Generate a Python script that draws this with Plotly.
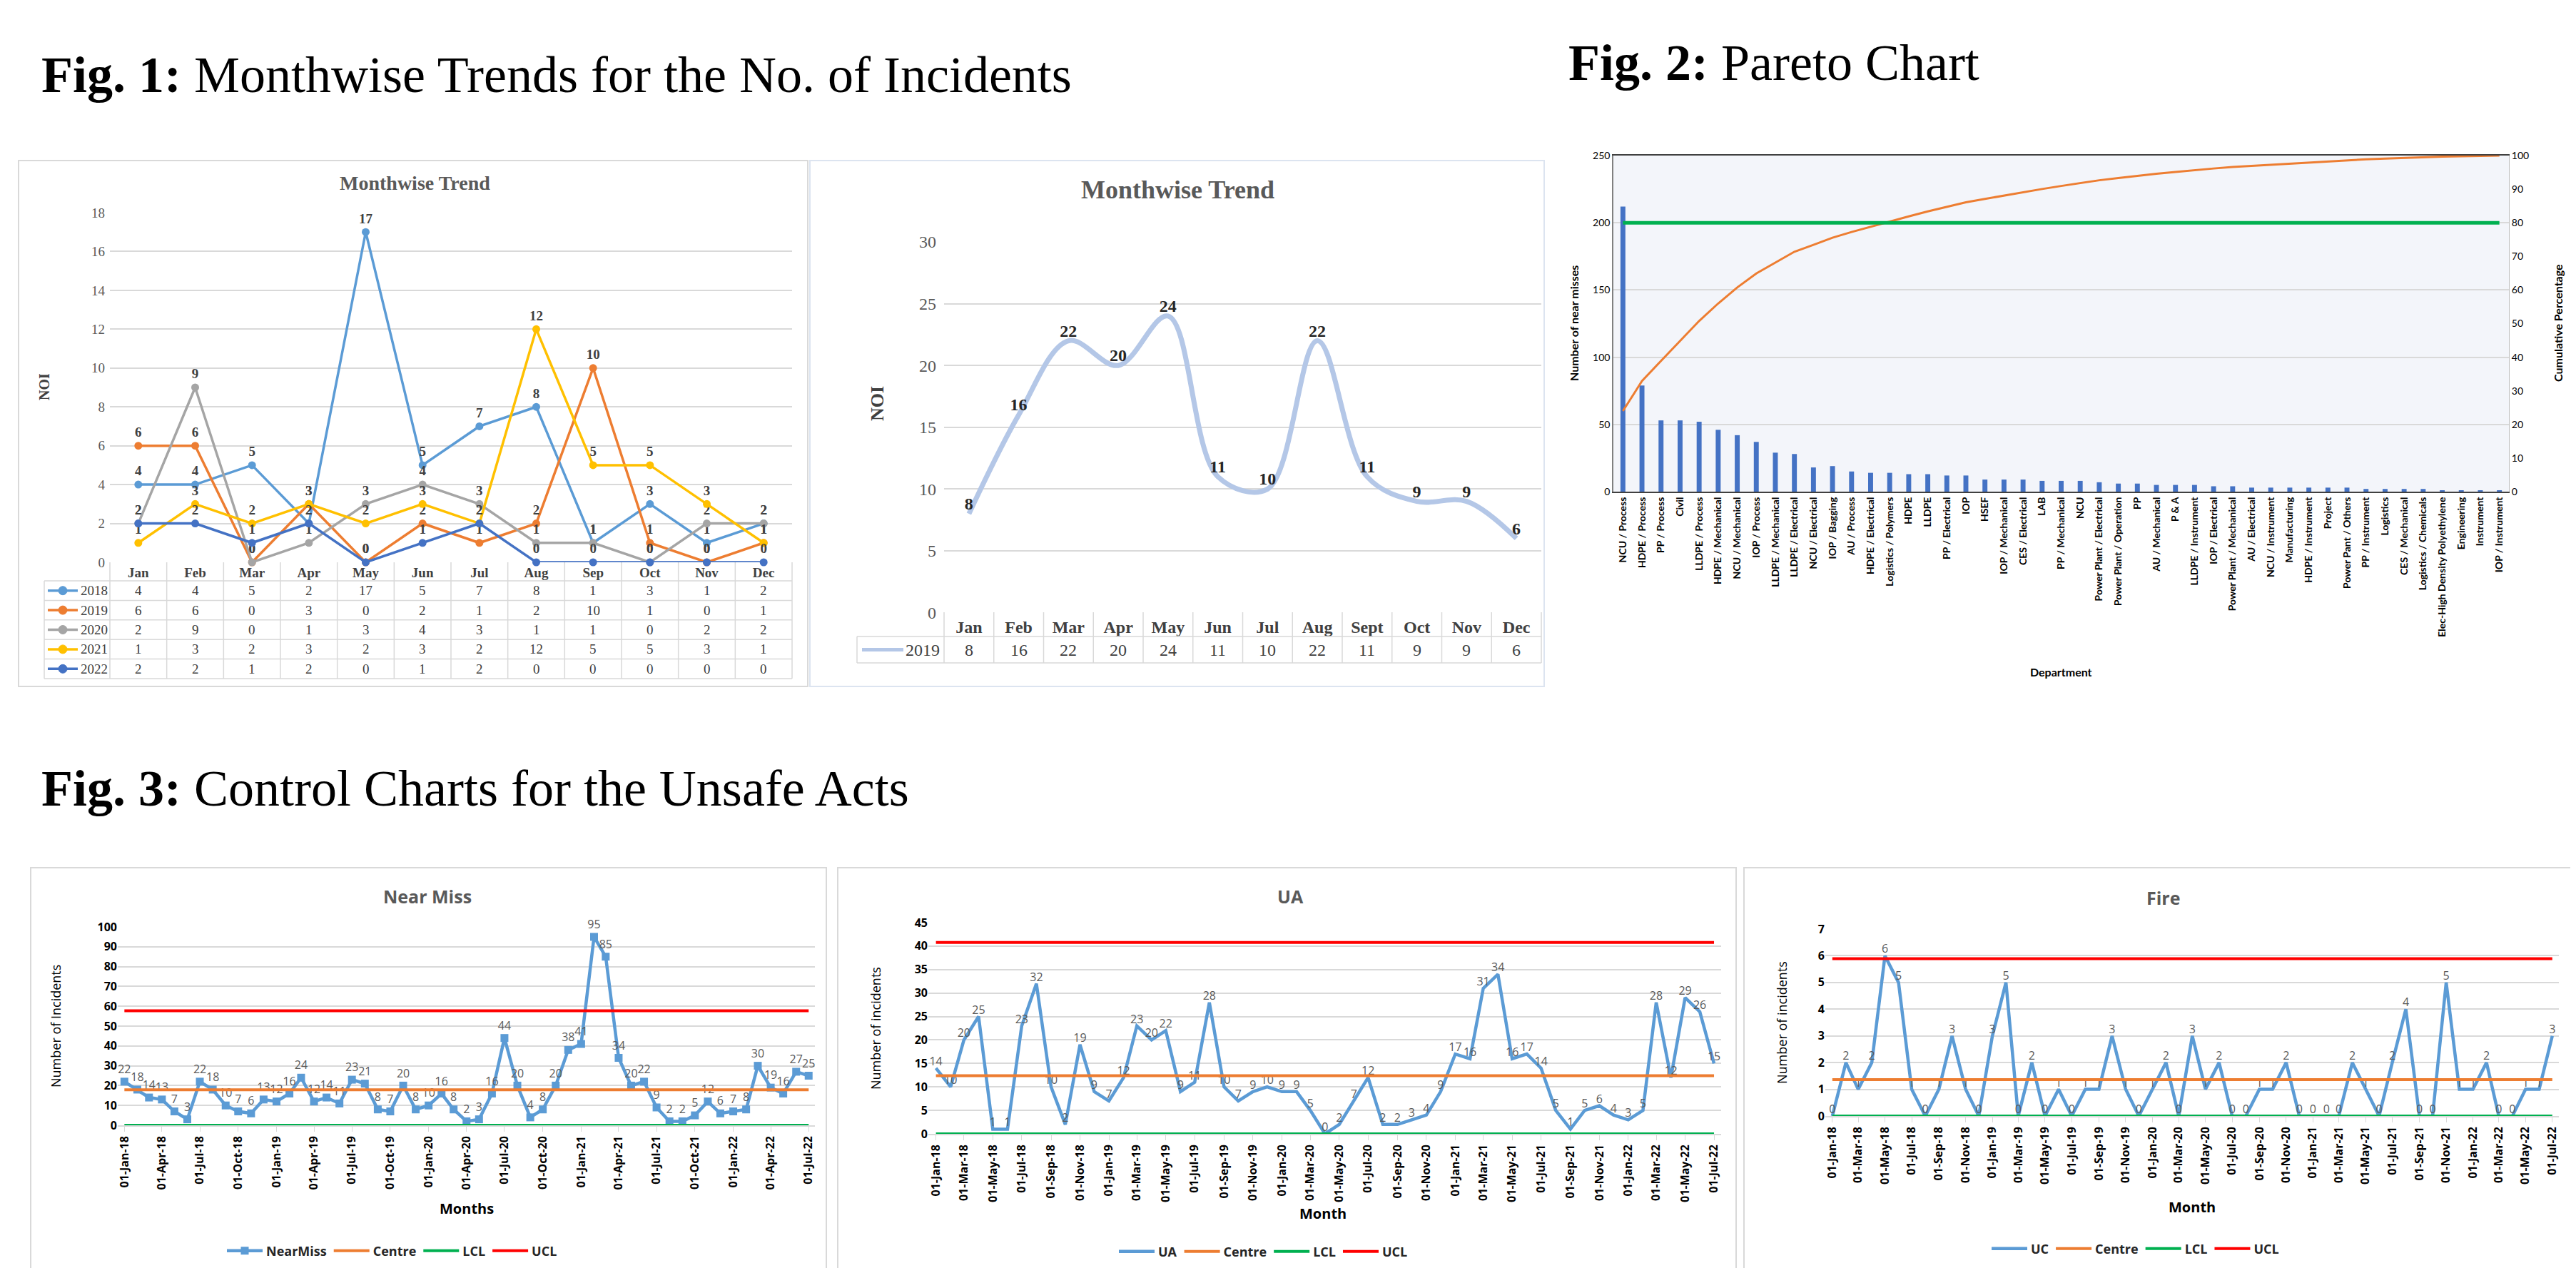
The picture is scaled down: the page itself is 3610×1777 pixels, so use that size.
import plotly.graph_objects as go
import numpy as np
import pandas as pd

W, H = 3610, 1777
def X(px): return px / W
def Y(py): return 1 - py / H

# ---------------- Fig. 1 data ----------------
months = ["Jan", "Feb", "Mar", "Apr", "May", "Jun", "Jul", "Aug", "Sep", "Oct", "Nov", "Dec"]
years = ["2018", "2019", "2020", "2021", "2022"]
noi_2018 = [4, 4, 5, 2, 17, 5, 7, 8, 1, 3, 1, 2]
noi_2019 = [6, 6, 0, 3, 0, 2, 1, 2, 10, 1, 0, 1]
noi_2020 = [2, 9, 0, 1, 3, 4, 3, 1, 1, 0, 2, 2]
noi_2021 = [1, 3, 2, 3, 2, 3, 2, 12, 5, 5, 3, 1]
noi_2022 = [2, 2, 1, 2, 0, 1, 2, 0, 0, 0, 0, 0]
year_colors = ["#5B9BD5", "#ED7D31", "#A5A5A5", "#FFC000", "#4472C4"]

months_b = ["Jan", "Feb", "Mar", "Apr", "May", "Jun", "Jul", "Aug", "Sept", "Oct", "Nov", "Dec"]
year_b = "2019"
noi_b = [8, 16, 22, 20, 24, 11, 10, 22, 11, 9, 9, 6]

# ---------------- Fig. 2 data ----------------
departments = [
    "NCU / Process", "HDPE / Process", "PP / Process", "Civil", "LLDPE / Process",
    "HDPE / Mechanical", "NCU / Mechanical", "IOP / Process", "LLDPE / Mechanical",
    "LLDPE / Electrical", "NCU / Electrical", "IOP / Bagging", "AU / Process",
    "HDPE / Electrical", "Logistics / Polymers", "HDPE", "LLDPE", "PP / Electrical",
    "IOP", "HSEF", "IOP / Mechanical", "CES / Electrical", "LAB", "PP / Mechanical",
    "NCU", "Power Plant / Electrical", "Power Plant / Operation", "PP", "AU / Mechanical",
    "P & A", "LLDPE / Instrument", "IOP / Electrical", "Power Plant / Mechanical",
    "AU / Electrical", "NCU / Instrument", "Manufacturing", "HDPE / Instrument", "Project",
    "Power Pant / Others", "PP / Instrument", "Logistics", "CES / Mechanical",
    "Logistics / Chemicals", "Elec-High Density Polyethylene", "Engineering", "Instrument",
    "IOP / Instrument"]
near_misses = [212, 79, 53, 53, 52, 46, 42, 37, 29, 28, 18, 19, 15, 14, 14, 13, 13, 12, 12,
               9, 9, 9, 8, 8, 8, 7, 6, 6, 5, 5, 5, 4, 4, 3, 3, 3, 3, 3, 3, 2, 2, 2, 2, 1, 1, 1, 1]
threshold_pct = 80

# ---------------- Fig. 3 data ----------------
month_dates = pd.date_range("2018-01-01", "2022-07-01", freq="MS")
near_miss = [22, 18, 14, 13, 7, 3, 22, 18, 10, 7, 6, 13,
             12, 16, 24, 12, 14, 11, 23, 21, 8, 7, 20, 8,
             10, 16, 8, 2, 3, 16, 44, 20, 4, 8, 20, 38,
             41, 95, 85, 34, 20, 22, 9, 2, 2, 5, 12, 6,
             7, 8, 30, 19, 16, 27, 25]
ua = [14, 10, 20, 25, 1, 1, 23, 32, 10, 2, 19, 9,
      7, 12, 23, 20, 22, 9, 11, 28, 10, 7, 9, 10,
      9, 9, 5, 0, 2, 7, 12, 2, 2, 3, 4, 9,
      17, 16, 31, 34, 16, 17, 14, 5, 1, 5, 6, 4,
      3, 5, 28, 12, 29, 26, 15]
fire = [0, 2, 1, 2, 6, 5, 1, 0, 1, 3, 1, 0,
        3, 5, 0, 2, 0, 1, 0, 1, 1, 3, 1, 0,
        1, 2, 0, 3, 1, 2, 0, 0, 1, 1, 2, 0,
        0, 0, 0, 2, 1, 0, 2, 4, 0, 0, 5, 1,
        1, 2, 0, 0, 1, 1, 3]
nm_limits = {"Centre": 17.87, "LCL": 0, "UCL": 57.7}
ua_limits = {"Centre": 12.4, "LCL": 0, "UCL": 40.8}
fire_limits = {"Centre": 1.36, "LCL": 0, "UCL": 5.89}
limit_colors = {"Centre": "#ED7D31", "LCL": "#00B050", "UCL": "#FF0000"}

SERIF = "Liberation Serif"
SANS = "Open Sans"
CAL = "Lato"
GRID = "#D9D9D9"

fig = go.Figure()
ann = []
shapes = []

def text(x, y, s, size, family, color="#000", angle=0, xanchor="center", xref="paper", xval=None):
    ann.append(dict(x=X(x) if xval is None else xval, y=Y(y), xref=xref, yref="paper", text=s,
                    showarrow=False, font=dict(size=size, family=family, color=color),
                    textangle=angle, xanchor=xanchor, yanchor="middle"))

def line(x0, y0, x1, y1, color=GRID, width=1.5):
    shapes.append(dict(type="line", xref="paper", yref="paper", x0=X(x0), x1=X(x1),
                       y0=Y(y0), y1=Y(y1), line=dict(color=color, width=width)))

def table_grid(x_label, x_left, x_right, n, y_top, y_head, row_h, nrows):
    colw = (x_right - x_left) / n
    y_bot = y_head + nrows * row_h
    for r in range(nrows + 1):
        yy = y_head + r * row_h
        line(x_label, yy, x_right, yy)
    for k in range(n + 1):
        xx = x_left + k * colw
        line(xx, y_top, xx, y_bot)
    line(x_label, y_head, x_label, y_bot)

# ---------------- Fig. 1 left: multi-year lines + data table ----------------
series_1 = [noi_2018, noi_2019, noi_2020, noi_2021, noi_2022]
for yr, vals, col in zip(years, series_1, year_colors):
    fig.add_trace(go.Scatter(
        x=months, y=vals, mode="lines+markers+text", name=yr,
        text=vals, texttemplate="<b>%{text}</b>", textposition="top center",
        textfont=dict(family=SERIF, size=19, color="#404040"),
        line=dict(color=col, width=3.5), marker=dict(size=11, color=col),
        xaxis="x", yaxis="y", showlegend=False, cliponaxis=False))

T1 = dict(x_label=54, x_left=146, x_right=1102, y_top=780, y_head=806, row_h=27.4)
table_grid(T1["x_label"], T1["x_left"], T1["x_right"], 12, T1["y_top"], T1["y_head"], T1["row_h"], len(years))
for r, (yr, vals, col) in enumerate(zip(years, series_1, year_colors)):
    yc = T1["y_head"] + (r + 0.5) * T1["row_h"]
    line(59, yc, 101, yc, color=col, width=3.5)
    shapes.append(dict(type="circle", xref="paper", yref="paper", xsizemode="pixel", ysizemode="pixel",
                       xanchor=X(80), yanchor=Y(yc), x0=-6, x1=6, y0=-6, y1=6,
                       fillcolor=col, line=dict(color=col, width=1)))
    text(103, yc, yr, 19, SERIF, "#404040", xanchor="left")
    for m, v in zip(months, vals):
        text(0, yc, str(v), 19, SERIF, "#404040", xref="x", xval=m)

# ---------------- Fig. 1 right: 2019 smooth line + table ----------------
fig.add_trace(go.Scatter(
    x=months_b, y=noi_b, mode="lines+text", name=year_b,
    text=noi_b, texttemplate="<b>%{text}</b>", textposition="top center",
    textfont=dict(family=SERIF, size=24, color="#262626"),
    line=dict(color="#B4C7E7", width=7, shape="spline", smoothing=1.0),
    xaxis="x2", yaxis="y2", showlegend=False, cliponaxis=False))

T2 = dict(x_label=1193, x_left=1315, x_right=2152, y_top=850, y_head=884, row_h=37)
table_grid(T2["x_label"], T2["x_left"], T2["x_right"], 12, T2["y_top"], T2["y_head"], T2["row_h"], 1)
yc2 = T2["y_head"] + 0.5 * T2["row_h"]
line(1200, yc2, 1258, yc2, color="#B4C7E7", width=5)
text(1259, yc2, year_b, 24, SERIF, "#404040", xanchor="left")
for m, v in zip(months_b, noi_b):
    text(0, yc2, str(v), 24, SERIF, "#404040", xref="x2", xval=m)

# ---------------- Fig. 2: Pareto ----------------
cum_pct = np.cumsum(near_misses) / np.sum(near_misses) * 100
fig.add_trace(go.Bar(x=departments, y=near_misses, marker_color="#4472C4", width=0.26,
                     xaxis="x3", yaxis="y3", showlegend=False, name="Near misses"))
fig.add_trace(go.Scatter(x=departments, y=cum_pct, mode="lines", line=dict(color="#ED7D31", width=3),
                         xaxis="x3", yaxis="y4", showlegend=False, name="Cumulative %"))
fig.add_trace(go.Scatter(x=departments, y=[threshold_pct] * len(departments), mode="lines",
                         line=dict(color="#00B050", width=5),
                         xaxis="x3", yaxis="y4", showlegend=False, name="80%"))

# ---------------- Fig. 3: control charts ----------------
def control_chart(vals, limits, name, xa, ya, legend, markers):
    fig.add_trace(go.Scatter(
        x=month_dates, y=vals, name=name,
        mode="lines+markers+text" if markers else "lines+text",
        text=vals, textposition="top center",
        textfont=dict(family=SANS, size=16, color="#595959"),
        line=dict(color="#5B9BD5", width=4.5),
        marker=dict(symbol="square", size=11, color="#5B9BD5"),
        xaxis=xa, yaxis=ya, legend=legend, cliponaxis=False))
    for k, v in limits.items():
        fig.add_trace(go.Scatter(
            x=month_dates, y=[v] * len(month_dates), name=k, mode="lines",
            line=dict(color=limit_colors[k], width=4),
            xaxis=xa, yaxis=ya, legend=legend))

control_chart(near_miss, nm_limits, "NearMiss", "x5", "y5", "legend", True)
control_chart(ua, ua_limits, "UA", "x6", "y6", "legend2", False)
control_chart(fire, fire_limits, "UC", "x7", "y7", "legend3", False)

# ---------------- Text ----------------
text(48, 97, "<b>Fig. 1:</b> Monthwise Trends for the No. of Incidents", 72, SERIF, xanchor="left")
text(2188, 80, "<b>Fig. 2:</b> Pareto Chart", 72, SERIF, xanchor="left")
text(48, 1097, "<b>Fig. 3:</b> Control Charts for the Unsafe Acts", 72, SERIF, xanchor="left")

text(573, 248, "<b>Monthwise Trend</b>", 28, SERIF, "#595959")
text(1642, 258, "<b>Monthwise Trend</b>", 36, SERIF, "#595959")
text(54, 534, "<b>NOI</b>", 20, SERIF, "#404040", -90)
text(1221, 558, "<b>NOI</b>", 26, SERIF, "#404040", -90)

text(2198, 445, "<b>Number of near misses</b>", 16, CAL, "#000", -90)
text(3577, 445, "<b>Cumulative Percentage</b>", 16, CAL, "#000", -90)
text(2880, 933, "<b>Department</b>", 16, CAL, "#000")

text(591, 1248, "<b>Near Miss</b>", 25, SANS, "#595959")
text(1800, 1248, "<b>UA</b>", 25, SANS, "#595959")
text(3023, 1250, "<b>Fire</b>", 25, SANS, "#595959")
text(70, 1430, "Number of Incidents", 18, SANS, "#000", -90)
text(1219, 1433, "Number of incidents", 18, SANS, "#000", -90)
text(2489, 1425, "Number of incidents", 18, SANS, "#000", -90)
text(646, 1685, "<b>Months</b>", 20, SANS, "#000")
text(1846, 1692, "<b>Month</b>", 20, SANS, "#000")
text(3064, 1683, "<b>Month</b>", 20, SANS, "#000")

def box(x0, y0, x1, y1, color):
    shapes.append(dict(type="rect", xref="paper", yref="paper", x0=X(x0), x1=X(x1),
                       y0=Y(y1), y1=Y(y0), line=dict(color=color, width=2),
                       fillcolor="rgba(0,0,0,0)", layer="below"))
box(18, 217, 1124, 954, "#D9D9D9")
box(1127, 217, 2156, 954, "#DCE4F0")
box(35, 1208, 1150, 1772, "#D9D9D9")
box(1166, 1208, 2425, 1772, "#D9D9D9")
box(2436, 1208, 3607, 1772, "#D9D9D9")
shapes.append(dict(type="rect", xref="x3 domain", yref="y3 domain", x0=0, x1=1, y0=0, y1=1,
                   fillcolor="#F3F5FA", line=dict(width=0), layer="below"))

def yaxis_common(**kw):
    d = dict(showgrid=True, gridcolor=GRID, gridwidth=1.5, zeroline=False, showline=False, ticks="")
    d.update(kw)
    return d

date_x = dict(type="date", range=["2017-12-16", "2022-07-16"], tickformat="%d-%b-%y",
              tick0="2018-01-01", tickangle=-90, showgrid=False, zeroline=False,
              showline=True, linecolor=GRID, linewidth=1.5, ticks="outside", ticklen=7,
              tickcolor=GRID, tickfont=dict(family=SANS, size=16, color="#000", weight="bold"))

legend_font = dict(family=SANS, size=18, color="#262626", weight="bold")

fig.update_layout(
    width=W, height=H, margin=dict(l=0, r=0, t=0, b=0),
    paper_bgcolor="white", plot_bgcolor="rgba(0,0,0,0)", template="none",
    annotations=ann, shapes=shapes,
    xaxis=dict(domain=[X(146), X(1102)], anchor="y", type="category", range=[-0.5, 11.5],
               showticklabels=True, showgrid=False, zeroline=False, showline=False, ticks="",
               ticklabelstandoff=1,
               tickfont=dict(family=SERIF, size=19, color="#404040", weight="bold")),
    yaxis=yaxis_common(domain=[Y(780), Y(290)], anchor="x", range=[0, 18], dtick=2,
                       tickfont=dict(family=SERIF, size=19, color="#595959"), ticklabelstandoff=6),
    xaxis2=dict(domain=[X(1315), X(2152)], anchor="y2", type="category", range=[-0.5, 11.5],
                showticklabels=True, showgrid=False, zeroline=False, showline=False, ticks="",
                ticklabelstandoff=3,
                tickfont=dict(family=SERIF, size=24, color="#404040", weight="bold")),
    yaxis2=yaxis_common(domain=[Y(850.5), Y(331)], anchor="x2", range=[0, 30], dtick=5,
                        tickfont=dict(family=SERIF, size=24, color="#595959"), ticklabelstandoff=10),
    xaxis3=dict(domain=[X(2253), X(3508)], anchor="y3", type="category", range=[-0.5, 46.5],
                tickangle=-90, showgrid=False, zeroline=False, showline=True, mirror=True,
                linecolor="#404040", linewidth=2, ticks="",
                tickfont=dict(family=CAL, size=14, color="#000", weight="bold")),
    yaxis3=yaxis_common(domain=[Y(681), Y(210)], anchor="x3", range=[0, 250], dtick=50,
                        showline=True, linecolor="#808080", linewidth=1.5,
                        tickfont=dict(family=CAL, size=14, color="#000")),
    yaxis4=dict(overlaying="y3", side="right", anchor="x3", range=[0, 100], dtick=10,
                showgrid=False, zeroline=False, showline=True, linecolor="#BFBFBF", ticks="",
                tickfont=dict(family=CAL, size=14, color="#000")),
    xaxis5=dict(date_x, domain=[X(157), X(1134)], anchor="y5", dtick="M3"),
    yaxis5=yaxis_common(domain=[Y(1569), Y(1291)], anchor="x5", range=[0, 100], dtick=10,
                        tickfont=dict(family=SANS, size=16, color="#000", weight="bold")),
    xaxis6=dict(date_x, domain=[X(1293), X(2404)], anchor="y6", dtick="M2"),
    yaxis6=yaxis_common(domain=[Y(1581), Y(1285)], anchor="x6", range=[0, 45], dtick=5,
                        tickfont=dict(family=SANS, size=16, color="#000", weight="bold")),
    xaxis7=dict(date_x, domain=[X(2550), X(3578)], anchor="y7", dtick="M2"),
    yaxis7=yaxis_common(domain=[Y(1556), Y(1294)], anchor="x7", range=[0, 7], dtick=1,
                        tickfont=dict(family=SANS, size=16, color="#000", weight="bold")),
    legend=dict(x=X(305), y=Y(1745), xanchor="left", yanchor="middle", orientation="h",
                font=legend_font, bgcolor="rgba(0,0,0,0)", itemwidth=50),
    legend2=dict(x=X(1555), y=Y(1746), xanchor="left", yanchor="middle", orientation="h",
                 font=legend_font, bgcolor="rgba(0,0,0,0)", itemwidth=50),
    legend3=dict(x=X(2778), y=Y(1742), xanchor="left", yanchor="middle", orientation="h",
                 font=legend_font, bgcolor="rgba(0,0,0,0)", itemwidth=50),
)

fig.write_html("out.html")
